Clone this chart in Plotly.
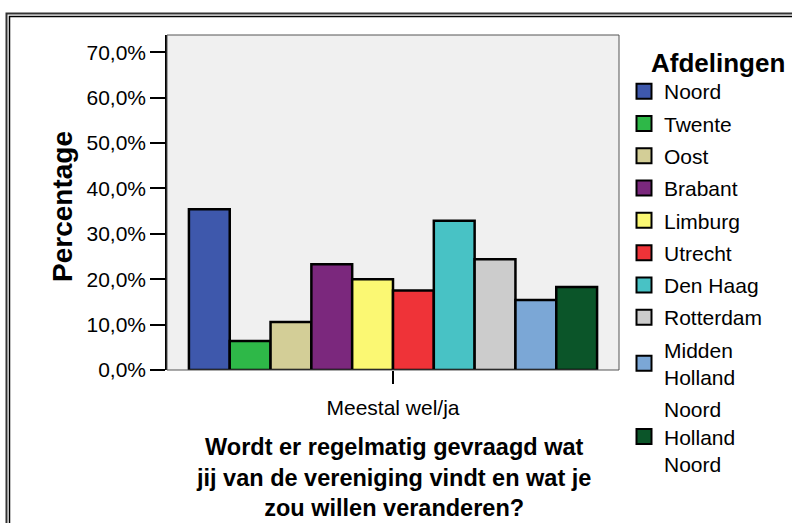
import plotly.graph_objects as go

categories = ["Meestal wel/ja"]
afdelingen = ["Noord", "Twente", "Oost", "Brabant", "Limburg", "Utrecht",
              "Den Haag", "Rotterdam", "Midden<br>Holland", "Noord<br>Holland<br>Noord"]
percentages = [35.4, 6.4, 10.6, 23.3, 20.0, 17.5, 32.9, 24.4, 15.4, 18.3]
colors = ["#3E58AC", "#2EB848", "#D3CE97", "#7B287D", "#FBF873", "#EF3338",
          "#48C2C5", "#CCCCCC", "#7BA7D6", "#0B5529"]
y_ticks = [0, 10, 20, 30, 40, 50, 60, 70]
y_ticktext = ["0,0%", "10,0%", "20,0%", "30,0%", "40,0%", "50,0%", "60,0%", "70,0%"]

W, H = 792, 523
L, R, T, B = 167, 619, 35, 370
pw, ph = R - L, B - T

def px(x):
    return (x - L) / pw

def py(y):
    return (B - y) / ph

FONT = "Liberation Sans, Arial, sans-serif"

fig = go.Figure()
for name, val, col in zip(afdelingen, percentages, colors):
    fig.add_trace(go.Bar(
        x=categories, y=[val], name=name, legendgroup=name, showlegend=False,
        marker=dict(color=col, line=dict(color="black", width=2.5)),
    ))
    fig.add_trace(go.Scatter(
        x=[None], y=[None], name=name, legendgroup=name, mode="markers",
        marker=dict(symbol="square", size=15, color=col,
                    line=dict(color="black", width=2)),
        showlegend=True,
    ))

fig.update_layout(
    width=W, height=H,
    margin=dict(l=L, r=W - R, t=T, b=H - B, pad=0),
    paper_bgcolor="white", plot_bgcolor="#F0F0F0",
    barmode="group", bargap=0.097, bargroupgap=0,
    font=dict(family=FONT, size=21, color="black"),
    showlegend=True,
    legend=dict(
        x=px(624), y=py(71), xanchor="left", yanchor="top",
        font=dict(size=21), traceorder="grouped", tracegroupgap=2,
        bgcolor="rgba(0,0,0,0)", maxheight=480, itemsizing="trace",
    ),
    xaxis=dict(
        type="category", range=[-0.5, 0.5], showgrid=False,
        ticks="outside", ticklen=13, tickwidth=2, tickcolor="black",
        tickfont=dict(size=21), showline=False, zeroline=False,
        ticklabelstandoff=6,
    ),
    yaxis=dict(
        range=[0, (B - T) / 45.4 * 10], tickvals=y_ticks, ticktext=y_ticktext,
        showgrid=False, zeroline=False,
        ticks="outside", ticklen=15, tickwidth=2, tickcolor="black",
        tickfont=dict(size=21), showline=True, linecolor="black", linewidth=1.5,
    ),
)

# plot area border
fig.add_shape(type="rect", xref="paper", yref="paper", x0=0, y0=0, x1=1, y1=1,
              line=dict(color="#555555", width=1), layer="above")
# double frame
fig.add_shape(type="rect", xref="paper", yref="paper",
              x0=px(6.5), y0=py(800), x1=px(1100), y1=py(13.5),
              line=dict(color="#333333", width=2), layer="above")
fig.add_shape(type="rect", xref="paper", yref="paper",
              x0=px(9.5), y0=py(800), x1=px(1100), y1=py(16.5),
              line=dict(color="black", width=1.5), layer="above")

fig.add_annotation(text="<b>Afdelingen</b>", xref="paper", yref="paper",
                   x=px(649), y=py(63), showarrow=False, font=dict(size=26),
                   xanchor="left", yanchor="middle")
fig.add_annotation(text="<b>Percentage</b>", xref="paper", yref="paper",
                   x=px(62), y=py(207), textangle=-90, showarrow=False,
                   font=dict(size=28), xanchor="center", yanchor="middle")
fig.add_annotation(text="<b>Wordt er regelmatig gevraagd wat<br>jij van de vereniging vindt en wat je<br>zou willen veranderen?</b>",
                   xref="paper", yref="paper", x=px(393), y=py(477),
                   showarrow=False, font=dict(size=23.5), align="center",
                   xanchor="center", yanchor="middle")

fig.write_html("out.html", config={"displayModeBar": False},
               post_script="document.body.style.margin='0px';")
